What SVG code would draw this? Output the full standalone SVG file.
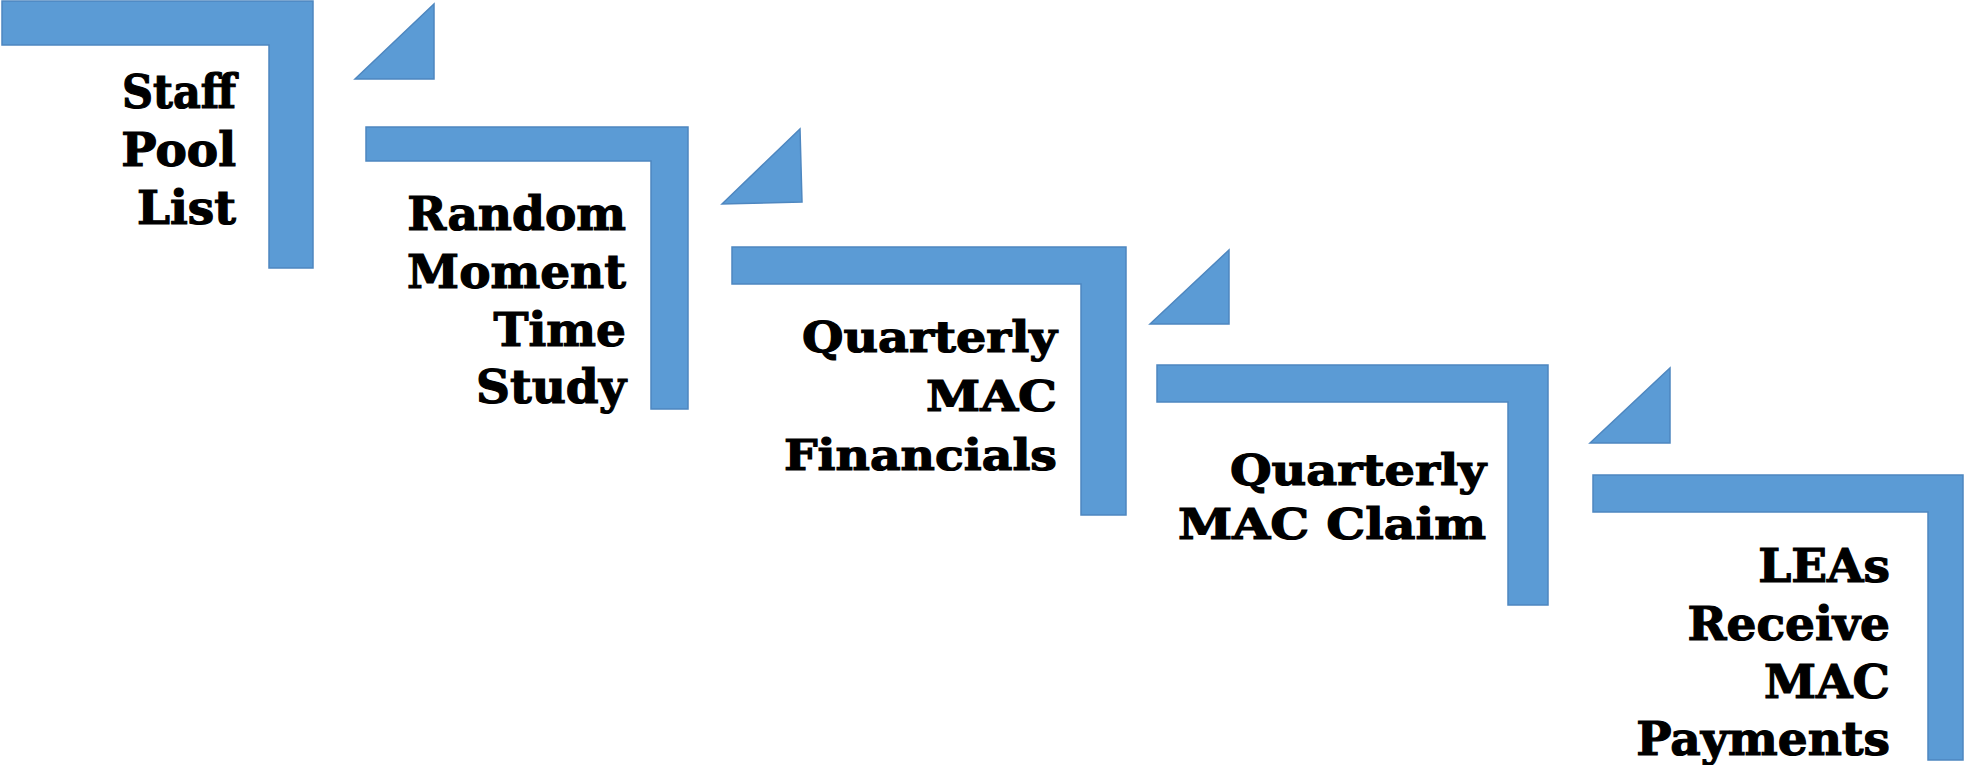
<svg xmlns="http://www.w3.org/2000/svg" width="1964" height="765" viewBox="0 0 1964 765">
<style>
.sh{fill:#5B9BD5;stroke:#4E87C0;stroke-width:1.5;stroke-linejoin:miter}
.t{font-family:"DejaVu Serif","Liberation Serif",serif;font-weight:bold;fill:#000;stroke:#000;stroke-width:1.2;text-anchor:end}
</style>
<rect width="1964" height="765" fill="#fff"/>
<g id="step1">
<polygon class="sh" points="2,1 313,1 313,268 269,268 269,45 2,45"/>
<text class="t" font-size="47" x="236" y="108" textLength="114" lengthAdjust="spacingAndGlyphs">Staff</text>
<text class="t" font-size="47" x="236" y="166">Pool</text>
<text class="t" font-size="47" x="236" y="224">List</text>
</g>
<g id="step2">
<polygon class="sh" points="366,127 688,127 688,409 651,409 651,161 366,161"/>
<text class="t" font-size="47"><tspan x="626" y="230">Random</tspan><tspan x="626" y="288">Moment</tspan><tspan x="626" y="346">Time</tspan><tspan x="626" y="403">Study</tspan></text>
</g>
<g id="step3">
<polygon class="sh" points="732,247 1126,247 1126,515 1081,515 1081,284 732,284"/>
<text class="t" font-size="43" x="1057" y="352" textLength="255" lengthAdjust="spacingAndGlyphs">Quarterly</text>
<text class="t" font-size="43" x="1057" y="411" textLength="131" lengthAdjust="spacingAndGlyphs">MAC</text>
<text class="t" font-size="43" x="1057" y="470" textLength="273" lengthAdjust="spacingAndGlyphs">Financials</text>
</g>
<g id="step4">
<polygon class="sh" points="1157,365 1548,365 1548,605 1508,605 1508,402 1157,402"/>
<text class="t" font-size="43" x="1486" y="485" textLength="256" lengthAdjust="spacingAndGlyphs">Quarterly</text>
<text class="t" font-size="43" x="1486" y="539" textLength="308" lengthAdjust="spacingAndGlyphs">MAC Claim</text>
</g>
<g id="step5">
<polygon class="sh" points="1593,475 1963,475 1963,760 1928,760 1928,512 1593,512"/>
<text class="t" font-size="47"><tspan x="1890" y="582">LEAs</tspan><tspan x="1890" y="640">Receive</tspan><tspan x="1890" y="698">MAC</tspan><tspan x="1890" y="755">Payments</tspan></text>
</g>
<g id="connectors">
<polygon class="sh" points="355,79 434,4 434,79"/>
<polygon class="sh" points="722,204 800,129 802,202"/>
<polygon class="sh" points="1150,324 1229,250 1229,324"/>
<polygon class="sh" points="1590,443 1670,368 1670,443"/>
</g>
</svg>
